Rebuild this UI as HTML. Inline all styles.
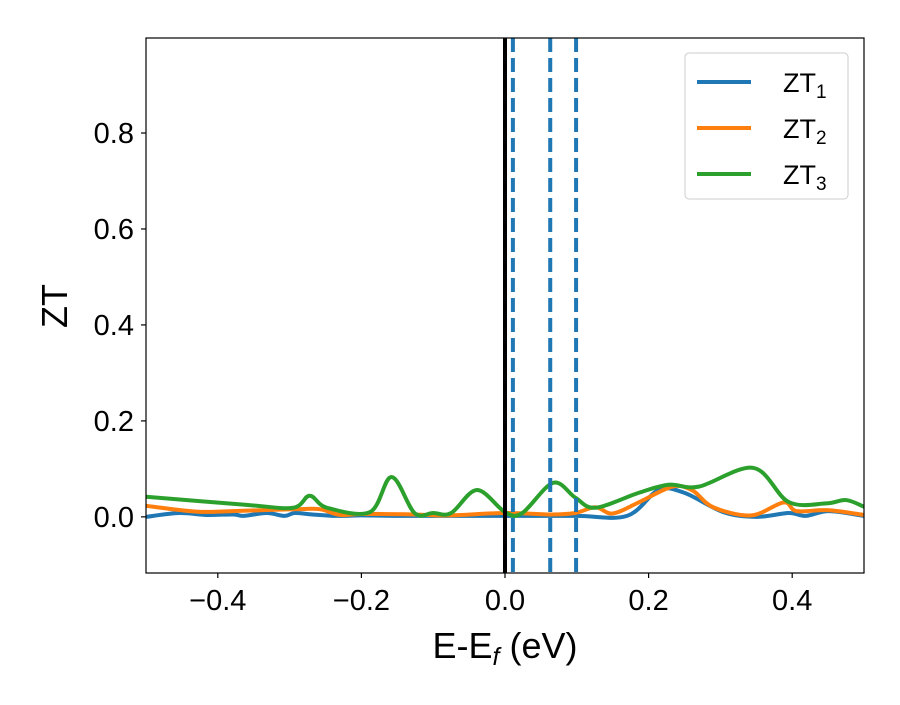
<!DOCTYPE html>
<html><head><meta charset="utf-8"><style>
body{margin:0;background:#fff;font-family:"Liberation Sans","DejaVu Sans",sans-serif}
</style></head><body>
<svg id="c" width="900" height="700" xmlns="http://www.w3.org/2000/svg"></svg>
<script>
const xTicks=[-0.4,-0.2,0.0,0.2,0.4];
const xTickLabels=["\u22120.4","\u22120.2","0.0","0.2","0.4"];
const yTicks=[0.0,0.2,0.4,0.6,0.8];
const yTickLabels=["0.0","0.2","0.4","0.6","0.8"];
const vlines=[0.011,0.063,0.099];
const blueX=[-0.5,-0.454,-0.416,-0.378,-0.364,-0.332,-0.307,-0.293,-0.268,-0.235,-0.2,-0.15,-0.1,0,0.1,0.17,0.214,0.25,0.304,0.35,0.395,0.419,0.451,0.5];
const blueY=[0.0,0.008,0.004,0.005,0.002,0.008,0.002,0.008,0.005,0.002,0.003,0.002,0.002,0.002,0.002,0.002,0.056,0.05,0.01,0.0,0.008,0.002,0.012,0.002];
const orangeX=[-0.5,-0.43,-0.38,-0.29,-0.258,-0.23,-0.2,-0.126,-0.08,0,0.065,0.098,0.126,0.15,0.186,0.233,0.261,0.29,0.343,0.388,0.406,0.449,0.5];
const orangeY=[0.023,0.011,0.012,0.016,0.016,0.004,0.006,0.005,0.003,0.008,0.005,0.008,0.02,0.007,0.03,0.063,0.055,0.02,0.003,0.03,0.012,0.014,0.004];
const greenX=[-0.5,-0.36,-0.295,-0.272,-0.248,-0.188,-0.158,-0.126,-0.1,-0.075,-0.039,0,0.024,0.067,0.098,0.126,0.186,0.228,0.27,0.346,0.395,0.447,0.475,0.5];
const greenY=[0.042,0.025,0.019,0.044,0.019,0.01,0.083,0.008,0.008,0.008,0.056,0.01,0.008,0.071,0.04,0.019,0.05,0.067,0.063,0.102,0.031,0.028,0.035,0.021];
const L=146,R=864,T=38,B=573,xmin=-0.5,xmax=0.5,ymin=-0.117,ymax=0.998;
const sx=v=>L+(v-xmin)/(xmax-xmin)*(R-L);
const sy=v=>B-(v-ymin)/(ymax-ymin)*(B-T);
const svg=document.getElementById('c');const NS="http://www.w3.org/2000/svg";
function mk(t,a,p){const e=document.createElementNS(NS,t);for(const k in a)e.setAttribute(k,a[k]);(p||svg).appendChild(e);return e;}
function path(xs,ys){const P=xs.map((x,i)=>[sx(x),sy(ys[i])]);let d="M"+P[0][0]+","+P[0][1];
for(let i=0;i<P.length-1;i++){const p0=P[Math.max(0,i-1)],p1=P[i],p2=P[i+1],p3=P[Math.min(P.length-1,i+2)];
const c1=[p1[0]+(p2[0]-p0[0])/6,p1[1]+(p2[1]-p0[1])/6],c2=[p2[0]-(p3[0]-p1[0])/6,p2[1]-(p3[1]-p1[1])/6];
d+=`C${c1[0]},${c1[1]} ${c2[0]},${c2[1]} ${p2[0]},${p2[1]}`;}return d;}
const defs=mk('defs',{});const cp=mk('clipPath',{id:'clip'},defs);mk('rect',{x:L,y:T,width:R-L,height:B-T},cp);
const g=mk('g',{'clip-path':'url(#clip)'});
[[blueX,blueY,'#1f77b4','zt1-line'],[orangeX,orangeY,'#ff7f0e','zt2-line'],[greenX,greenY,'#2ca02c','zt3-line']].forEach(s=>{
const e=mk('path',{d:path(s[0],s[1]),fill:'none',stroke:s[2],'stroke-width':4},g);

});
const f=mk('line',{x1:sx(0),x2:sx(0),y1:T,y2:B,stroke:'#000','stroke-width':4},g);


vlines.forEach(v=>{const e=mk('line',{x1:sx(v),x2:sx(v),y1:T,y2:B,stroke:'#1f77b4','stroke-width':4,'stroke-dasharray':'14,6'},g);

});
const fr=mk('rect',{x:L,y:T,width:R-L,height:B-T,fill:'none',stroke:'#000','stroke-width':1.2});


xTicks.forEach((v,i)=>{mk('line',{x1:sx(v),x2:sx(v),y1:B,y2:B+5,stroke:'#000','stroke-width':1.2});
const t=mk('text',{x:sx(v),y:B+37,'text-anchor':'middle','font-size':29});t.textContent=xTickLabels[i];

});
yTicks.forEach((v,i)=>{mk('line',{x1:L-5,x2:L,y1:sy(v),y2:sy(v),stroke:'#000','stroke-width':1.2});
const t=mk('text',{x:L-12,y:sy(v)+10,'text-anchor':'end','font-size':29});t.textContent=yTickLabels[i];

});
</script>
<svg style="position:absolute;left:0;top:0" width="900" height="700" xmlns="http://www.w3.org/2000/svg">
<text x="505" y="658" text-anchor="middle" font-size="36">E-E<tspan font-style="italic" font-size="25" dy="7">f</tspan><tspan dy="-7"> (eV)</tspan></text>
<text transform="translate(67,306) rotate(-90)" text-anchor="middle" font-size="36">ZT</text>
<g>
<rect x="685" y="53" width="163" height="146" rx="4" fill="#fff" fill-opacity="0.8" stroke="#ccc"/>
<line x1="697" x2="751" y1="82" y2="82" stroke="#1f77b4" stroke-width="4"/>
<line x1="697" x2="751" y1="128" y2="128" stroke="#ff7f0e" stroke-width="4"/>
<line x1="697" x2="751" y1="174" y2="174" stroke="#2ca02c" stroke-width="4"/>
<text x="783" y="92" font-size="27">ZT<tspan font-size="19" dy="6">1</tspan></text>
<text x="783" y="138" font-size="27">ZT<tspan font-size="19" dy="6">2</tspan></text>
<text x="783" y="184" font-size="27">ZT<tspan font-size="19" dy="6">3</tspan></text>
</g>
</svg>
</body></html>
